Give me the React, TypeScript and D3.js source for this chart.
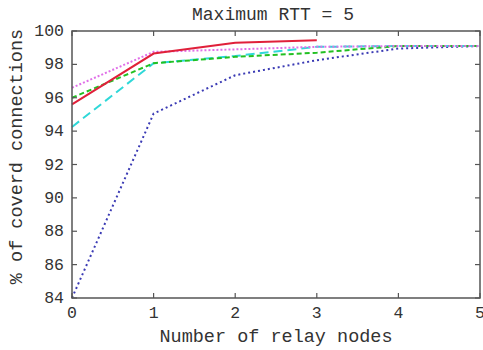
import React from 'react';
import { scaleLinear, line } from 'd3';

const xValues = [0, 1, 2, 3, 4, 5];
const xTicks = [0, 1, 2, 3, 4, 5];
const yTicks = [84, 86, 88, 90, 92, 94, 96, 98, 100];

const redSolid = [95.6, 98.65, 99.3, 99.45];
const magentaDotted = [96.6, 98.75, 98.9, 99.05, 99.1, 99.1];
const greenDashed = [96.0, 98.07, 98.45, 98.7, 99.1, 99.1];
const cyanDashed = [94.25, 98.07, 98.5, 99.05, 99.1, 99.1];
const blueDotted = [84.0, 95.05, 97.35, 98.25, 98.95, 99.1];

const series = [
  { name: 'blue', values: blueDotted, color: '#3a3ab4', dash: '2,3', width: 2 },
  { name: 'cyan', values: cyanDashed, color: '#2fd8d8', dash: '9,5', width: 2 },
  { name: 'green', values: greenDashed, color: '#22c022', dash: '5,3', width: 2 },
  { name: 'magenta', values: magentaDotted, color: '#e070e8', dash: '2,2', width: 2 },
  { name: 'red', values: redSolid, color: '#e0203a', dash: null, width: 2 },
];

const font = '"Liberation Mono", "Courier New", monospace';

export default function App() {
  const left = 72, right = 480, top = 31, bottom = 298;
  const x = scaleLinear().domain([0, 5]).range([left, right]);
  const y = scaleLinear().domain([84, 100]).range([bottom, top]);
  const tick = 5;

  return (
    <svg width={483} height={350} style={{ position: 'absolute', left: 0, top: 0, background: '#fff' }}>
      <text x={273} y={20} fontFamily={font} fontSize={18} textAnchor="middle" fill="#333">Maximum RTT = 5</text>

      {series.map(s => {
        const gen = line<number>().x((_, i) => x(xValues[i])).y(d => y(d));
        return (
          <path key={s.name} d={gen(s.values) || ''} fill="none" stroke={s.color}
            strokeWidth={s.width} strokeDasharray={s.dash || undefined} />
        );
      })}

      <rect x={left} y={top} width={right - left} height={bottom - top} fill="none" stroke="#555" strokeWidth={1.5} />

      {yTicks.map(t => (
        <g key={'y' + t}>
          <line x1={left} x2={left + tick} y1={y(t)} y2={y(t)} stroke="#555" strokeWidth={1.2} />
          <line x1={right} x2={right - tick} y1={y(t)} y2={y(t)} stroke="#555" strokeWidth={1.2} />
          <text x={left - 8} y={y(t) + 5} fontFamily={font} fontSize={16.5} textAnchor="end" fill="#333">{t}</text>
        </g>
      ))}
      {xTicks.map(t => (
        <g key={'x' + t}>
          <line x1={x(t)} x2={x(t)} y1={bottom} y2={bottom - tick} stroke="#555" strokeWidth={1.2} />
          <line x1={x(t)} x2={x(t)} y1={top} y2={top + tick} stroke="#555" strokeWidth={1.2} />
          <text x={x(t)} y={bottom + 20} fontFamily={font} fontSize={16.5} textAnchor="middle" fill="#333">{t}</text>
        </g>
      ))}

      <text x={276} y={342} fontFamily={font} fontSize={18.5} textAnchor="middle" fill="#333">Number of relay nodes</text>
      <text transform={`translate(22,${(top + bottom) / 2 - 8}) rotate(-90)`} fontFamily={font} fontSize={18.5}
        textAnchor="middle" fill="#333">% of coverd connections</text>
    </svg>
  );
}
